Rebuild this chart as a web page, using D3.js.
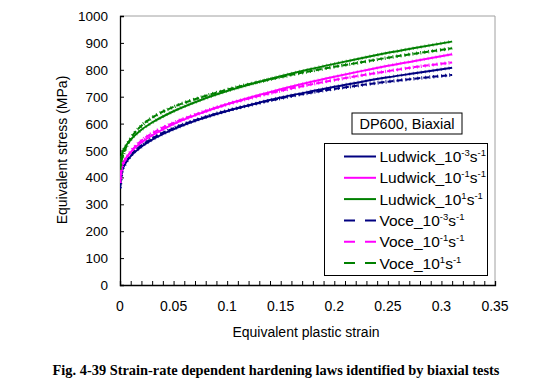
<!DOCTYPE html>
<html><head><meta charset="utf-8">
<script src="https://cdn.jsdelivr.net/npm/d3@7"></script>
<style>body{margin:0;background:#fff;} svg{display:block;}</style>
</head><body>
<svg id="c" width="535" height="388"></svg>
<script>
// ---- data ----
const strain = [0, 0.002, 0.005, 0.01, 0.02, 0.03, 0.05, 0.075, 0.1, 0.125, 0.15, 0.175, 0.2, 0.225, 0.25, 0.275, 0.31];
const ludwick_m3 = [360, 427, 452, 479, 514, 540, 579, 617, 647, 673, 697, 717, 737, 755, 772, 787, 808];
const ludwick_m1 = [380, 445, 468, 494, 530, 556, 598, 638, 672, 701, 728, 752, 774, 795, 815, 833, 858];
const ludwick_p1 = [430, 489, 514, 540, 577, 604, 646, 687, 721, 750, 776, 800, 822, 843, 863, 881, 905];
const voce_m3 = [360, 425, 452, 482, 519, 545, 583, 619, 648, 672, 694, 713, 729, 743, 756, 767, 781];
const voce_m1 = [380, 440, 465, 495, 537, 564, 603, 640, 672, 698, 722, 743, 762, 779, 795, 810, 827];
const voce_p1 = [430, 470, 505, 545, 592, 622, 662, 697, 726, 751, 773, 793, 811, 828, 845, 860, 880];
const seriesNames = ["Ludwick_10|-3|s|-1", "Ludwick_10|-1|s|-1", "Ludwick_10|1|s|-1", "Voce_10|-3|s|-1", "Voce_10|-1|s|-1", "Voce_10|1|s|-1"];
const xTicks = [0, 0.05, 0.1, 0.15, 0.2, 0.25, 0.3, 0.35];
const yTicks = [0, 100, 200, 300, 400, 500, 600, 700, 800, 900, 1000];
const annotation = "DP600, Biaxial";
const xTitle = "Equivalent plastic strain";
const yTitle = "Equivalent stress (MPa)";
const caption = "Fig. 4-39 Strain-rate dependent hardening laws identified by biaxial tests";

const colors = ["#000080", "#FF00FF", "#008000", "#000080", "#FF00FF", "#008000"];
const dashed = [false, false, false, true, true, true];
const values = [ludwick_m3, ludwick_m1, ludwick_p1, voce_m3, voce_m1, voce_p1];

// ---- layout ----
const svg = d3.select("#c");
const L = 120, R = 495, T = 16, B = 285;
const x = d3.scaleLinear().domain([0, 0.35]).range([L, R]);
const y = d3.scaleLinear().domain([0, 1000]).range([B, T]);
const font = "Arial, 'Liberation Sans', sans-serif";

// plot border (top/right gray)
svg.append("path").attr("d", `M${L},${T}H${R}V${B}`).attr("fill", "none").attr("stroke", "#a0a0a0").attr("stroke-width", 1);

// axes
const xAxis = d3.axisBottom(x).tickValues(d3.range(0, 0.3501, 0.01)).tickSize(-4).tickFormat("");
svg.append("g").attr("transform", `translate(0,${B})`).call(xAxis)
  .call(g => g.select(".domain").attr("stroke", "#000").attr("stroke-width", 1.3))
  .call(g => g.selectAll(".tick line").attr("stroke", "#000"));
const yAxis = d3.axisLeft(y).tickValues(yTicks).tickSize(-4).tickFormat("");
svg.append("g").attr("transform", `translate(${L},0)`).call(yAxis)
  .call(g => g.select(".domain").attr("stroke", "#000").attr("stroke-width", 1.3))
  .call(g => g.selectAll(".tick line").attr("stroke", "#000"));

// tick labels
svg.append("g").selectAll("text").data(xTicks).join("text")
  .attr("x", d => x(d)).attr("y", 311).attr("text-anchor", "middle")
  .attr("font-family", font).attr("font-size", 14).attr("fill", "#000")
  .text(d => d3.format("")(+d.toFixed(2)));
svg.append("g").selectAll("text").data(yTicks).join("text")
  .attr("x", 108).attr("y", d => y(d) + 5).attr("text-anchor", "end")
  .attr("font-family", font).attr("font-size", 13.5).attr("fill", "#000")
  .text(d => d);

// titles
svg.append("text").attr("x", 306).attr("y", 337).attr("text-anchor", "middle")
  .attr("font-family", font).attr("font-size", 14).text(xTitle);
svg.append("text").attr("transform", `translate(67,150) rotate(-90)`).attr("text-anchor", "middle")
  .attr("font-family", font).attr("font-size", 14).text(yTitle);

// lines
const line = d3.line().x((d, i) => x(strain[i])).y(d => y(d)).curve(d3.curveMonotoneX);
svg.append("defs").append("clipPath").attr("id", "pc").append("rect")
  .attr("x", L).attr("y", T).attr("width", R - L).attr("height", B - T);
const lg = svg.append("g").attr("clip-path", "url(#pc)");
[0, 3, 1, 4, 2, 5].forEach(i => {
  lg.append("path").attr("d", line(values[i])).attr("fill", "none")
    .attr("stroke", colors[i]).attr("stroke-width", 2)
    .attr("stroke-dasharray", dashed[i] ? "6,3" : null);
  lg.append("path").attr("d", line(values[i])).attr("fill", "none")
    .attr("stroke", colors[i]).attr("stroke-width", 3.5)
    .attr("stroke-dasharray", "1,3").attr("opacity", dashed[i] ? 0.9 : 0.5);
});

// annotation box
svg.append("rect").attr("x", 352).attr("y", 113).attr("width", 110).attr("height", 21)
  .attr("fill", "#fff").attr("stroke", "#000").attr("stroke-width", 1);
svg.append("text").attr("x", 407).attr("y", 129).attr("text-anchor", "middle")
  .attr("font-family", font).attr("font-size", 14.5).text(annotation);

// legend
svg.append("rect").attr("x", 324.5).attr("y", 143.5).attr("width", 163).attr("height", 132)
  .attr("fill", "#fff").attr("stroke", "#000").attr("stroke-width", 1);
seriesNames.forEach((nm, i) => {
  const cy = 156.5 + i * 21.3;
  svg.append("line").attr("x1", 344).attr("x2", 376).attr("y1", cy).attr("y2", cy)
    .attr("stroke", colors[i]).attr("stroke-width", 2)
    .attr("stroke-dasharray", dashed[i] ? "11,10" : null);
  const parts = nm.split("|");
  const t = svg.append("text").attr("x", 379.5).attr("y", cy + 5.5)
    .attr("font-family", font).attr("font-size", 15.5);
  t.append("tspan").text(parts[0]);
  t.append("tspan").attr("font-size", 9.5).attr("dy", -6).text(parts[1]);
  t.append("tspan").attr("font-size", 15.5).attr("dy", 6).text(parts[2]);
  t.append("tspan").attr("font-size", 9.5).attr("dy", -6).text(parts[3]);
});

// caption
svg.append("text").attr("x", 276).attr("y", 375).attr("text-anchor", "middle")
  .attr("font-family", "'Times New Roman', 'Liberation Serif', serif").attr("font-weight", "bold")
  .attr("font-size", 14.4).text(caption);
</script>
</body></html>
